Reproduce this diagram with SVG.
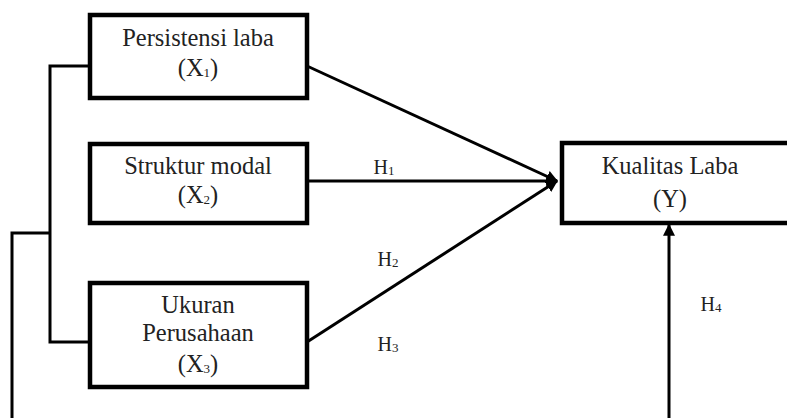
<svg xmlns="http://www.w3.org/2000/svg" width="787" height="418" viewBox="0 0 787 418">
<style>
.box{fill:#fff;stroke:#000;stroke-width:4.5}
.t{font-family:"Liberation Serif","Times New Roman",serif;font-size:24.5px;fill:#222;text-anchor:middle}
.h{font-family:"Liberation Serif","Times New Roman",serif;font-size:20px;fill:#222;text-anchor:middle}
.s{font-size:13px}
.c{fill:none;stroke:#000;stroke-width:3}
</style>
<defs>
<marker id="ah" viewBox="0 0 10 10" refX="9" refY="5" markerWidth="4" markerHeight="4" orient="auto" markerUnits="strokeWidth">
<path d="M0,0 L10,5 L0,10 z" fill="#000"/>
</marker>
</defs>
<rect width="787" height="418" fill="#fff"/>
<g id="connectors">
<path class="c" d="M90,66 H50 V342 H90"/>
<path class="c" d="M50,233 H12 V418"/>
<line class="c" x1="307" y1="66" x2="557" y2="181" marker-end="url(#ah)"/>
<line class="c" x1="307" y1="181" x2="557" y2="181" marker-end="url(#ah)"/>
<line class="c" x1="307" y1="342" x2="557" y2="181" marker-end="url(#ah)"/>
<line class="c" x1="669" y1="418" x2="669" y2="225" marker-end="url(#ah)"/>
</g>
<g id="x1">
<rect class="box" x="90" y="15" width="217" height="83"/>
<text class="t" x="198" y="46">Persistensi laba</text>
<text class="t" x="198" y="76">(X<tspan class="s" dy="1">1</tspan><tspan dy="-1">)</tspan></text>
</g>
<g id="x2">
<rect class="box" x="90" y="144" width="217" height="79"/>
<text class="t" x="198" y="174">Struktur modal</text>
<text class="t" x="198" y="203">(X<tspan class="s" dy="1">2</tspan><tspan dy="-1">)</tspan></text>
</g>
<g id="x3">
<rect class="box" x="90" y="283" width="217" height="104"/>
<text class="t" x="198" y="313">Ukuran</text>
<text class="t" x="198" y="341">Perusahaan</text>
<text class="t" x="198" y="372">(X<tspan class="s" dy="1">3</tspan><tspan dy="-1">)</tspan></text>
</g>
<g id="y">
<rect class="box" x="562" y="143" width="230" height="80"/>
<text class="t" x="670" y="174">Kualitas Laba</text>
<text class="t" x="670" y="207">(Y)</text>
</g>
<g id="labels">
<text class="h" x="384" y="174">H<tspan class="s" dy="1">1</tspan></text>
<text class="h" x="388" y="266">H<tspan class="s" dy="1">2</tspan></text>
<text class="h" x="388" y="351">H<tspan class="s" dy="1">3</tspan></text>
<text class="h" x="711" y="311">H<tspan class="s" dy="1">4</tspan></text>
</g>
</svg>
